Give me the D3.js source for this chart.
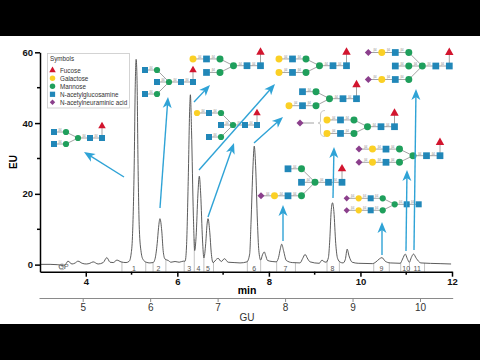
<!DOCTYPE html>
<html>
<head>
<meta charset="utf-8">
<script src="https://cdn.jsdelivr.net/npm/d3@7"></script>
<style>
  body { margin: 0; background: #fff; }
  text { font-family: "Liberation Sans", Arial, sans-serif; }
</style>
</head>
<body>
<div id="chart"></div>
<script>
// Chromatogram
const traceTime = [3.00,3.22,3.39,3.52,3.57,3.61,3.70,3.77,3.83,3.92,4.01,4.09,4.16,4.27,4.38,4.46,4.53,4.60,4.68,4.77,4.88,4.95,4.99,5.02,5.06,5.08,5.10,5.12,5.14,5.17,5.21,5.25,5.32,5.40,5.47,5.51,5.56,5.59,5.62,5.66,5.69,5.73,5.80,5.86,5.95,6.04,6.13,6.17,6.20,6.24,6.27,6.285,6.31,6.35,6.38,6.41,6.45,6.48,6.51,6.55,6.58,6.62,6.65,6.67,6.71,6.74,6.78,6.86,6.89,6.96,7.03,7.11,7.24,7.37,7.52,7.58,7.61,7.65,7.68,7.71,7.75,7.78,7.82,7.86,7.90,7.93,7.97,8.07,8.16,8.21,8.25,8.28,8.32,8.38,8.51,8.68,8.74,8.79,8.85,8.90,9.10,9.16,9.20,9.25,9.30,9.33,9.36,9.39,9.42,9.46,9.50,9.56,9.62,9.67,9.71,9.75,9.82,9.95,10.26,10.34,10.41,10.47,10.54,10.65,10.87,10.92,10.98,11.02,11.07,11.11,11.16,11.22,11.32,11.74,11.98];
const traceEU = [0.1,0.1,0.0,-0.3,0.3,1.0,0.2,0.5,1.0,0.4,0.2,0.4,0.8,0.2,0.6,2.0,0.7,0.6,1.3,0.8,0.6,1.0,3,8,30,50,58,52,30,10,3.5,1.5,0.7,0.5,0.6,1.5,6,10.5,13,9.5,4,1.6,1.2,0.7,0.9,0.7,1.0,1.0,5,25,44,48,38,14,4,8,20,25,20,7,1.9,6,11.5,13,9,3.5,0.6,1.6,1.8,0.9,1.7,0.7,0.6,0.5,0.8,3,12,27,33.5,28,12,4,1.3,2.8,3.6,2.6,1.2,0.9,0.8,2,4.5,5.8,4,1.2,0.6,0.5,1.8,2.9,1.6,0.8,0.4,1.3,0.9,0.7,2,7,15,17.5,15,6,1.8,0.7,0.5,1.5,4.4,2.5,0.7,0.4,0.3,0.8,1.6,2,1.0,0.5,0.4,1.6,3,1.8,0.7,2,3,1.8,0.5,0.3,0.2];

const euTicks = [0, 20, 40, 60];
const euMinor = [10, 30, 50];
const minTicks = [4, 6, 8, 10, 12];
const minMinor = [5, 7, 9, 11];
const guTicks = [5, 6, 7, 8, 9, 10];

// peak windows (min) and their numbers
const peakEdges = [4.79,5.31,5.47,5.75,6.15,6.37,6.58,6.79,7.53,7.82,8.17,8.58,9.27,9.54,10.29,10.63,10.88,11.07,11.40];
const peakLabels = ["1","2","3","4","5","6","7","8","9","10","11"];
const peakLabelTimes = [5.05,5.59,6.26,6.46,6.67,7.68,8.36,9.39,10.46,11.0,11.24];

const legendNames = ["Fucose","Galactose","Mannose","N-acetylglucosamine","N-acetylneuraminic acid"];
const legendKeys = ["F","S","M","N","A"];

// Glycan cartoons: key, column, row on a small grid
const glycans = [
  {x:54, y:138, dx:12, dy:6, n:"N0-1 M1-1 N01 M11 M20 N30 N40 F4-2"},
  {x:145, y:82, dx:12, dy:12, n:"N0-1 M1-1 N10 M20 N30 N40 N01 M11 F4-1"},
  {x:193, y:65.7, dx:13.5, dy:6.75, n:"S0-1 N1-1 M2-1 M30 N40 N50 F5-2 N11 M21"},
  {x:197, y:125, dx:12, dy:12, n:"S0-1 N1-1 M2-1 N20 M30 N40 N50 F5-1 N11 M21"},
  {x:279, y:65.7, dx:13.5, dy:6.75, n:"S0-1 N1-1 M2-1 M30 N40 N50 F5-2 S01 N11 M21"},
  {x:289, y:98.7, dx:13.5, dy:7, n:"N1-1 M2-1 M30 N40 N50 F5-2 S01 N11 M21"},
  {x:327, y:126.7, dx:13.5, dy:6.75, n:"S0-1 N1-1 M2-1 M30 N40 N50 F5-2 S01 N11 M21"},
  {x:368.3, y:66, dx:13.5, dy:13.5, n:"A0-1 S1-1 N2-1 M3-1 N20 M30 M40 N50 N60 F6-1 A01 S11 N21 M31"},
  {x:359, y:155.7, dx:13.5, dy:6.6, n:"A0-1 S1-1 N2-1 M3-1 M40 N50 N60 F6-2 A01 S11 N21 M31"},
  {x:261, y:182.3, dx:13.5, dy:13.5, n:"N2-1 M3-1 N30 M40 N50 N60 F6-1 A01 S11 N21 M31"},
  {x:346.7, y:204.3, dx:12, dy:6, n:"A0-1 S1-1 N2-1 M3-1 M40 N50 N60 A01 S11 N21 M31"}
];

const arrows = [
  [124,177,84,152],[160,208,168,97],[194,102,210,85],[199,170,275,84],[208,217,234,143],
  [254,143,283,117],[283,241,283,205],[333,198,334,147],[382,255,382,222],[406,251,407,170],[414,250,416,89]
];

const symbols = {
  F: {type: d3.symbolTriangle, fill: "#d2152e", scale: 0.17},
  S: {type: d3.symbolCircle, fill: "#fbd025", scale: 0.21},
  M: {type: d3.symbolCircle, fill: "#1f9f5c", scale: 0.21},
  N: {type: d3.symbolSquare, fill: "#2187b8", scale: 0.25},
  A: {type: d3.symbolDiamond2, fill: "#8b3f8c", scale: 0.17}
};

const svg = d3.select("#chart").append("svg")
    .attr("width", 480)
    .attr("height", 360)
    .style("display", "block");

svg.append("rect").attr("width", 480).attr("height", 36).attr("fill", "#000");
svg.append("rect").attr("y", 324).attr("width", 480).attr("height", 36).attr("fill", "#000");

// Scales
const x = d3.scaleLinear().domain([3, 12]).range([40, 452]);
const y = d3.scaleLinear().domain([0, 60]).range([264.7, 52.3]);
const gu = d3.scaleLinear().domain([5, 10]).range([82.7, 420]);
const euAt = d3.scaleLinear().domain(traceTime).range(traceEU);

const axisY = 271.7;

// Peak windows
svg.selectAll(".edge")
    .data(peakEdges)
    .enter().append("line")
    .attr("class", "edge")
    .attr("x1", d => x(d))
    .attr("x2", d => x(d))
    .attr("y1", d => y(euAt(d)))
    .attr("y2", axisY)
    .attr("stroke", "#a8a8a8")
    .attr("stroke-width", 0.7);

svg.selectAll(".peak-label")
    .data(peakLabels)
    .enter().append("text")
    .attr("class", "peak-label")
    .attr("x", (d, i) => x(peakLabelTimes[i]))
    .attr("y", 270.5)
    .attr("text-anchor", "middle")
    .attr("font-size", 7)
    .attr("fill", "#555")
    .text(d => d);

// Trace
const line = d3.line()
    .x(d => x(d[0]))
    .y(d => y(d[1]))
    .curve(d3.curveMonotoneX);

svg.append("path")
    .datum(d3.zip(traceTime, traceEU))
    .attr("d", line)
    .attr("fill", "none")
    .attr("stroke", "#4a4a4a")
    .attr("stroke-width", 0.9);

// GP marker
svg.append("text")
    .attr("x", 63.5)
    .attr("y", 269)
    .attr("text-anchor", "middle")
    .attr("font-size", 7)
    .attr("fill", "#666")
    .text("GP");
svg.append("circle")
    .attr("cx", 62)
    .attr("cy", 266.8)
    .attr("r", 3)
    .attr("fill", "none")
    .attr("stroke", "#777")
    .attr("stroke-width", 0.5);

// Axes
function styleAxis(g, color, width) {
    g.select(".domain").attr("stroke", color).attr("stroke-width", width);
    g.selectAll(".tick line").attr("stroke", color).attr("stroke-width", width);
    g.selectAll(".tick text").attr("font-family", null).attr("fill", "#111");
}

const yAxisG = svg.append("g")
    .attr("transform", "translate(40, 0)")
    .call(d3.axisLeft(y.copy().domain([-2, 60]).range([axisY, 52.3])).tickValues(euTicks).tickSize(5).tickSizeOuter(0))
    .call(g => styleAxis(g, "#000", 1.5));
yAxisG.selectAll(".tick text").attr("font-size", 9.5).attr("font-weight", "bold").attr("x", -7);

yAxisG.selectAll(".minor")
    .data(euMinor)
    .enter().append("line")
    .attr("x1", -3)
    .attr("x2", 0)
    .attr("y1", d => y(d))
    .attr("y2", d => y(d))
    .attr("stroke", "#000")
    .attr("stroke-width", 1.5);

const xAxisG = svg.append("g")
    .attr("transform", `translate(0, ${axisY})`)
    .call(d3.axisBottom(x).tickValues(minTicks).tickSize(5).tickSizeOuter(0))
    .call(g => styleAxis(g, "#000", 1.5));
xAxisG.selectAll(".tick text").attr("font-size", 9.5).attr("font-weight", "bold").attr("y", 7);

xAxisG.selectAll(".minor")
    .data(minMinor)
    .enter().append("line")
    .attr("x1", d => x(d))
    .attr("x2", d => x(d))
    .attr("y1", 0)
    .attr("y2", 3)
    .attr("stroke", "#000")
    .attr("stroke-width", 1.5);

const guAxisG = svg.append("g")
    .attr("transform", "translate(0, 298)")
    .call(d3.axisBottom(gu.copy().domain([gu.invert(39), gu.invert(452.7)]).range([39, 452.7])).tickValues(guTicks).tickFormat(d3.format("d")).tickSize(4).tickSizeOuter(0))
    .call(g => styleAxis(g, "#8a8a8a", 1));
guAxisG.selectAll(".tick text").attr("font-size", 10).attr("fill", "#333").attr("y", 6);

svg.append("text")
    .attr("x", 247).attr("y", 293.5)
    .attr("text-anchor", "middle")
    .attr("font-size", 10.5).attr("font-weight", "bold")
    .text("min");
svg.append("text")
    .attr("x", 247).attr("y", 321)
    .attr("text-anchor", "middle")
    .attr("font-size", 10).attr("fill", "#333")
    .text("GU");
svg.append("text")
    .attr("transform", "translate(17, 162) rotate(-90)")
    .attr("text-anchor", "middle")
    .attr("font-size", 10).attr("font-weight", "bold")
    .text("EU");

// Legend
const legend = svg.append("g");
legend.append("rect")
    .attr("x", 47.5).attr("y", 53.5)
    .attr("width", 82).attr("height", 54.5)
    .attr("fill", "#fff")
    .attr("stroke", "#c9c9c9")
    .attr("stroke-width", 0.8);
legend.append("text")
    .attr("x", 50).attr("y", 61)
    .attr("font-size", 6.3).attr("fill", "#333")
    .text("Symbols");
const legendRow = legend.selectAll(".row")
    .data(legendNames)
    .enter().append("g")
    .attr("transform", (d, i) => `translate(0, ${70.3 + i * 8})`);
legendRow.append("path")
    .attr("transform", "translate(52.5, 0)")
    .attr("d", (d, i) => d3.symbol().type(symbols[legendKeys[i]].type).size(symbols[legendKeys[i]].scale * 110)())
    .attr("fill", (d, i) => symbols[legendKeys[i]].fill);
legendRow.append("text")
    .attr("x", 60).attr("y", 2.2)
    .attr("font-size", 6.3).attr("fill", "#333")
    .text(d => d);

// Glycans
function parseNodes(str) {
    return str.split(" ").map(s => {
        const m = s.match(/^([A-Z])(\d)(-?\d)$/);
        return {key: m[1], col: +m[2], row: +m[3]};
    });
}

function nodeLinks(nodes) {
    const links = [];
    nodes.forEach(a => nodes.forEach(b => {
        if (a.key === "F" && b.col === a.col && b.row === 0) links.push([a, b]);
        if (a.key === "F" || b.key === "F") return;
        if (b.col - a.col !== 1) return;
        if (a.row === b.row) links.push([a, b]);
        else if (a.key === "M" && b.row === 0) links.push([a, b]);
    }));
    return links;
}

function drawGlycan(g) {
    const group = svg.append("g").attr("transform", `translate(${g.x}, ${g.y})`);
    const nodes = parseNodes(g.n);
    const px = d => d.col * g.dx;
    const py = d => d.row * g.dy;
    const links = nodeLinks(nodes);

    group.selectAll("line")
        .data(links)
        .enter().append("line")
        .attr("x1", d => px(d[0]))
        .attr("y1", d => py(d[0]))
        .attr("x2", d => px(d[1]))
        .attr("y2", d => py(d[1]))
        .attr("stroke", "#8c8c8c")
        .attr("stroke-width", 0.8);

    // linkage notes, barely legible in the original as well
    group.selectAll(".linkage")
        .data(links.filter(d => d[0].row === d[1].row))
        .enter().append("text")
        .attr("class", "linkage")
        .attr("x", d => (px(d[0]) + px(d[1])) / 2)
        .attr("y", d => py(d[0]) - 1.2)
        .attr("text-anchor", "middle")
        .attr("font-size", 2.8)
        .attr("fill", "#888")
        .text("β4");

    group.selectAll("path")
        .data(nodes)
        .enter().append("path")
        .attr("transform", d => `translate(${px(d)}, ${py(d)})`)
        .attr("d", d => d3.symbol().type(symbols[d.key].type).size(g.dx * g.dx * symbols[d.key].scale)())
        .attr("fill", d => symbols[d.key].fill);
}
glycans.forEach(drawGlycan);

// Detached sialic acid and the brace on the third-row glycan
svg.append("path")
    .attr("d", "M325 110.5 Q320.5 110.5 320.5 115 L320.5 121 Q320.5 123 318 123 Q320.5 123 320.5 125 L320.5 132 Q320.5 136.5 325 136.5")
    .attr("fill", "none")
    .attr("stroke", "#bbb")
    .attr("stroke-width", 0.8);
svg.append("line")
    .attr("x1", 300).attr("x2", 314).attr("y1", 123).attr("y2", 123)
    .attr("stroke", "#8c8c8c").attr("stroke-width", 0.8);
svg.append("path")
    .attr("transform", "translate(300, 123)")
    .attr("d", d3.symbol().type(d3.symbolDiamond2).size(13.5 * 13.5 * symbols.A.scale)())
    .attr("fill", symbols.A.fill);

// Arrows
const arrowColor = "#2fa3d6";
arrows.forEach(([x1, y1, x2, y2]) => {
    const angle = Math.atan2(y2 - y1, x2 - x1) * 180 / Math.PI;
    const len = Math.hypot(x2 - x1, y2 - y1);
    svg.append("line")
        .attr("x1", x1).attr("y1", y1)
        .attr("x2", x1 + (x2 - x1) * (1 - 6 / len))
        .attr("y2", y1 + (y2 - y1) * (1 - 6 / len))
        .attr("stroke", arrowColor)
        .attr("stroke-width", 1.4);
    svg.append("path")
        .attr("transform", `translate(${x2}, ${y2}) rotate(${angle})`)
        .attr("d", "M0 0 L-11 -4.5 L-8 0 L-11 4.5 Z")
        .attr("fill", arrowColor);
});
</script>
</body>
</html>
